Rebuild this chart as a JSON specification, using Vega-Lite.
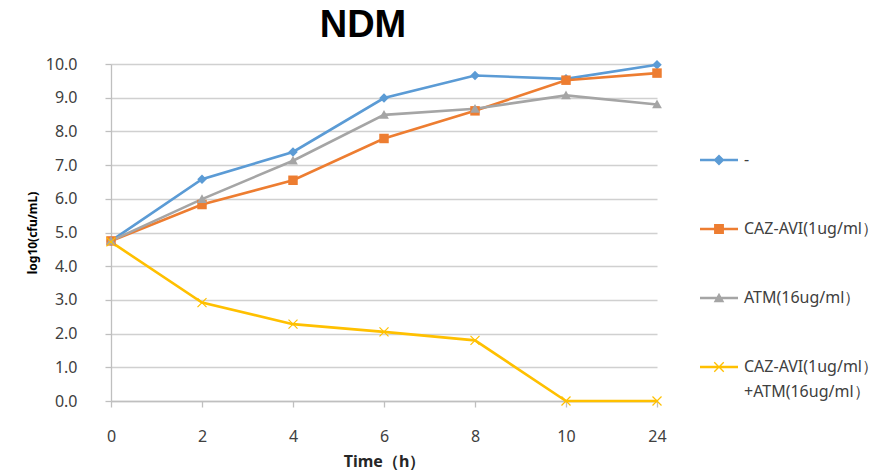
{
  "$schema": "https://vega.github.io/schema/vega-lite/v6.json",
  "autosize": "none",
  "width": 546,
  "height": 337,
  "padding": {"left": 111, "top": 64, "right": 239, "bottom": 72},
  "background": "white",
  "title": {"text": "NDM", "fontSize": 38, "font": "Liberation Sans", "fontWeight": "bold", "color": "#000000", "anchor": "middle", "dx": -21, "offset": 11},
  "config": {
    "view": {"stroke": null},
    "font": "Noto Sans"
  },
  "data": {"values": [
    {"time": 0, "series": "-", "value": 4.75},
    {"time": 2, "series": "-", "value": 6.58},
    {"time": 4, "series": "-", "value": 7.39},
    {"time": 6, "series": "-", "value": 8.99},
    {"time": 8, "series": "-", "value": 9.66},
    {"time": 10, "series": "-", "value": 9.56},
    {"time": 24, "series": "-", "value": 9.98},
    {"time": 0, "series": "CAZ-AVI(1ug/ml）", "value": 4.75},
    {"time": 2, "series": "CAZ-AVI(1ug/ml）", "value": 5.83},
    {"time": 4, "series": "CAZ-AVI(1ug/ml）", "value": 6.55},
    {"time": 6, "series": "CAZ-AVI(1ug/ml）", "value": 7.79},
    {"time": 8, "series": "CAZ-AVI(1ug/ml）", "value": 8.61},
    {"time": 10, "series": "CAZ-AVI(1ug/ml）", "value": 9.52},
    {"time": 24, "series": "CAZ-AVI(1ug/ml）", "value": 9.73},
    {"time": 0, "series": "ATM(16ug/ml）", "value": 4.75},
    {"time": 2, "series": "ATM(16ug/ml）", "value": 5.99},
    {"time": 4, "series": "ATM(16ug/ml）", "value": 7.13},
    {"time": 6, "series": "ATM(16ug/ml）", "value": 8.49},
    {"time": 8, "series": "ATM(16ug/ml）", "value": 8.67},
    {"time": 10, "series": "ATM(16ug/ml）", "value": 9.07},
    {"time": 24, "series": "ATM(16ug/ml）", "value": 8.8},
    {"time": 0, "series": "CAZ-AVI(1ug/ml）+ATM(16ug/ml）", "value": 4.72},
    {"time": 2, "series": "CAZ-AVI(1ug/ml）+ATM(16ug/ml）", "value": 2.92},
    {"time": 4, "series": "CAZ-AVI(1ug/ml）+ATM(16ug/ml）", "value": 2.28},
    {"time": 6, "series": "CAZ-AVI(1ug/ml）+ATM(16ug/ml）", "value": 2.05},
    {"time": 8, "series": "CAZ-AVI(1ug/ml）+ATM(16ug/ml）", "value": 1.8},
    {"time": 10, "series": "CAZ-AVI(1ug/ml）+ATM(16ug/ml）", "value": 0},
    {"time": 24, "series": "CAZ-AVI(1ug/ml）+ATM(16ug/ml）", "value": 0}
  ]},
  "encoding": {
    "x": {
      "field": "time", "type": "ordinal",
      "scale": {"type": "point", "padding": 0},
      "axis": {
        "title": "Time（h）", "titleFontSize": 16, "titleFontWeight": "bold", "titleColor": "#262626", "titlePadding": 9,
        "labelAngle": 0, "labelFontSize": 16, "labelColor": "#404040", "labelPadding": 21,
        "domainColor": "#bfbfbf", "domainWidth": 1.3, "tickColor": "#bfbfbf", "tickSize": 6, "tickWidth": 1.3, "grid": false
      }
    },
    "y": {
      "field": "value", "type": "quantitative",
      "scale": {"domain": [0, 10], "nice": false},
      "axis": {
        "title": "log10(cfu/mL)", "titleFontSize": 12, "titleFontWeight": "bold", "titleColor": "#000000", "titlePadding": 6,
        "values": [0, 1, 2, 3, 4, 5, 6, 7, 8, 9, 10], "format": ".1f",
        "labelFontSize": 16, "labelColor": "#404040", "labelPadding": 28, "labelAlign": "right",
        "domainColor": "#bfbfbf", "domainWidth": 1.3, "tickColor": "#bfbfbf", "tickSize": 6, "tickWidth": 1.3,
        "gridColor": "#d0d0d0", "gridWidth": 1.3
      }
    },
    "color": {
      "field": "series", "type": "nominal",
      "scale": {"domain": ["-", "CAZ-AVI(1ug/ml）", "ATM(16ug/ml）", "CAZ-AVI(1ug/ml）+ATM(16ug/ml）"], "range": ["#5B9BD5", "#ED7D31", "#A5A5A5", "#FFC000"]},
      "legend": {
        "title": null, "orient": "none", "legendX": 589, "legendY": 77, "padding": 0,
        "symbolSize": 1444, "symbolStrokeWidth": 0, "symbolOpacity": 1,
        "labelFontSize": 16, "labelColor": "#404040", "labelLimit": 400, "labelOffset": 6,
        "rowPadding": 42,
        "labelExpr": "datum.value === 'CAZ-AVI(1ug/ml）+ATM(16ug/ml）' ? ['CAZ-AVI(1ug/ml）', '+ATM(16ug/ml）'] : datum.label",
        "encode": {
          "symbols": {
            "update": {
              "shape": {"signal": "datum.value === '-' ? 'M-1,-0.066H1V0.066H-1Z M0,-0.29L0.29,0L0,0.29L-0.29,0Z' : datum.value === 'CAZ-AVI(1ug/ml）' ? 'M-1,-0.066H1V0.066H-1Z M-0.26,-0.26H0.26V0.26H-0.26Z' : datum.value === 'ATM(16ug/ml）' ? 'M-1,-0.066H1V0.066H-1Z M0,-0.28L0.28,0.22H-0.28Z' : 'M-1,-0.066H1V0.066H-1Z M-0.225,-0.275L0.275,0.225L0.225,0.275L-0.275,-0.225Z M0.275,-0.225L-0.225,0.275L-0.275,0.225L0.225,-0.275Z'"},
              "fill": {"scale": "color", "field": "value"},
              "stroke": {"value": "transparent"},
              "strokeWidth": {"value": 0},
              "size": {"value": 1444},
              "opacity": {"value": 1}
            }
          },
          "labels": {
            "update": {"lineHeight": {"value": 25}}
          }
        }
      }
    }
  },
  "layer": [
    {
      "mark": {"type": "line", "strokeWidth": 2.6}
    },
    {
      "transform": [{"filter": "datum.series === '-'"}],
      "mark": {"type": "point", "filled": true, "opacity": 1, "strokeWidth": 0, "size": 90, "shape": "M0,-1L1,0L0,1L-1,0Z"}
    },
    {
      "transform": [{"filter": "datum.series === 'CAZ-AVI(1ug/ml）'"}],
      "mark": {"type": "point", "filled": true, "opacity": 1, "strokeWidth": 0, "size": 90, "shape": "M-1,-1H1V1H-1Z"}
    },
    {
      "transform": [{"filter": "datum.series === 'ATM(16ug/ml）'"}],
      "mark": {"type": "point", "filled": true, "opacity": 1, "strokeWidth": 0, "size": 95, "shape": "M0,-1L1,0.8H-1Z"}
    },
    {
      "transform": [{"filter": "datum.series === 'CAZ-AVI(1ug/ml）+ATM(16ug/ml）'"}],
      "mark": {"type": "point", "filled": true, "opacity": 1, "strokeWidth": 0, "size": 100, "shape": "M-0.815,-0.985L0.985,0.815L0.815,0.985L-0.985,-0.815Z M0.985,-0.815L-0.815,0.985L-0.985,0.815L0.815,-0.985Z"}
    }
  ]
}
